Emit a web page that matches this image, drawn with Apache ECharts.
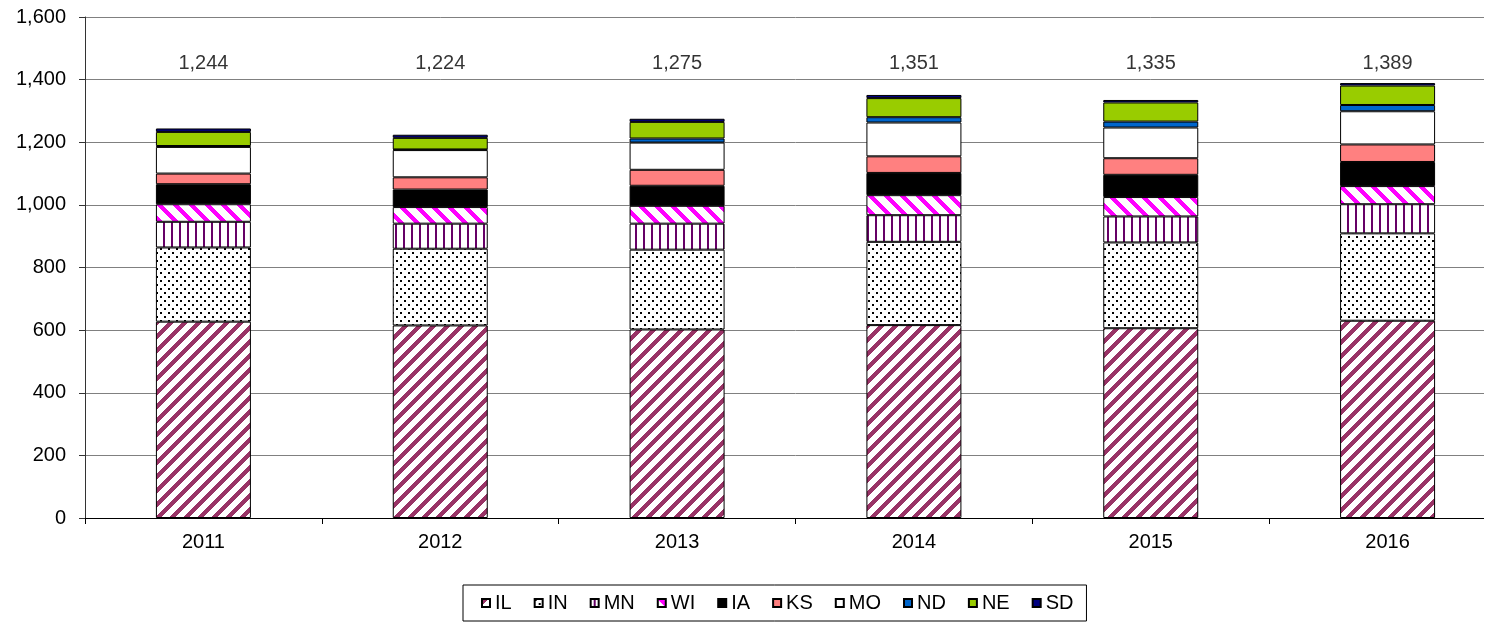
<!DOCTYPE html>
<html>
<head>
<meta charset="utf-8">
<script src="https://cdn.jsdelivr.net/npm/echarts@6/dist/echarts.min.js"></script>
<style>
html,body{margin:0;padding:0;background:#fff;overflow:hidden;}
#chart{width:1520px;height:627px;}
</style>
</head>
<body>
<div id="chart"></div>
<script>
// ---- data ----
const years = ['2011', '2012', '2013', '2014', '2015', '2016'];
const IL = [627, 615, 602, 616, 606, 630];
const IN = [237, 245, 255, 266, 274, 279];
const MN = [82, 80, 83, 85, 83, 93];
const WI = [56, 53, 57, 64, 62, 58];
const IA = [64, 56, 64, 71, 71, 77];
const KS = [34, 39, 51, 53, 53, 56];
const MO = [85, 87, 87, 108, 98, 106];
const ND = [3, 2, 13, 17, 19, 20];
const NE = [45, 37, 53, 61, 61, 62];
const SD = [11, 10, 10, 10, 8, 8];
const totals = [1244, 1224, 1275, 1351, 1335, 1389];
const yTicks = [0, 200, 400, 600, 800, 1000, 1200, 1400, 1600];

// ---- pattern helpers ----
function hexToRgb(h) {
  h = h.replace('#', '');
  return [parseInt(h.substr(0, 2), 16), parseInt(h.substr(2, 2), 16), parseInt(h.substr(4, 2), 16)];
}
function makeTile(w, h, color, test) {
  const c = document.createElement('canvas');
  c.width = w; c.height = h;
  const ctx = c.getContext('2d');
  const img = ctx.createImageData(w, h);
  const rgb = hexToRgb(color);
  for (let y = 0; y < h; y++) {
    for (let x = 0; x < w; x++) {
      const i = (y * w + x) * 4;
      const on = test(x, y);
      img.data[i] = on ? rgb[0] : 255;
      img.data[i + 1] = on ? rgb[1] : 255;
      img.data[i + 2] = on ? rgb[2] : 255;
      img.data[i + 3] = 255;
    }
  }
  ctx.putImageData(img, 0, 0);
  return { image: c, repeat: 'repeat' };
}
const patIL = makeTile(14, 14, '#993366', (x, y) => ((x + y) % 14) < 6);
const patIN = makeTile(8, 8, '#000000', (x, y) => (x < 2 && y < 2) || (x >= 4 && x < 6 && y >= 4 && y < 6));
const patMN = makeTile(8, 8, '#660066', (x, y) => x >= 3 && x < 5);
const patWI = makeTile(16, 16, '#FF00FF', (x, y) => (((x - y) % 16) + 16) % 16 < 6);

const FONT = 'Liberation Sans, Arial, sans-serif';
const stateNames = ['IL', 'IN', 'MN', 'WI', 'IA', 'KS', 'MO', 'ND', 'NE', 'SD'];
const stateData = [IL, IN, MN, WI, IA, KS, MO, ND, NE, SD];
const stateColors = [patIL, patIN, patMN, patWI, '#000000', '#FF8080', '#FFFFFF', '#0066CC', '#99CC00', '#000080'];

const series = stateNames.map((n, i) => ({
  name: n,
  type: 'bar',
  stack: 'total',
  barWidth: 95,
  data: stateData[i],
  itemStyle: { color: stateColors[i], borderColor: '#000', borderWidth: 1 },
  emphasis: { disabled: true },
  animation: false
}));

series.push({
  name: 'Total',
  type: 'scatter',
  symbolSize: 0,
  data: totals.map(() => 1450),
  label: {
    show: true,
    position: 'inside',
    formatter: p => totals[p.dataIndex].toLocaleString('en-US'),
    color: '#000',
    fontSize: 20,
    fontFamily: FONT
  },
  silent: true,
  animation: false,
  z: 10
});

const chart = echarts.init(document.getElementById('chart'), null, { renderer: 'canvas' });
chart.setOption({
  animation: false,
  backgroundColor: '#fff',
  grid: { left: 85, right: 14, top: 17, bottom: 109, containLabel: false },
  xAxis: {
    type: 'category',
    data: years,
    axisLine: { lineStyle: { color: '#000', width: 1 } },
    axisTick: { show: true, length: 6, lineStyle: { color: '#000' } },
    axisLabel: { color: '#000', fontSize: 20, fontFamily: FONT, margin: 14 }
  },
  yAxis: {
    type: 'value',
    min: yTicks[0],
    max: yTicks[yTicks.length - 1],
    interval: yTicks[1] - yTicks[0],
    axisLine: { show: true, lineStyle: { color: '#333', width: 1 } },
    axisTick: { show: true, length: 6, lineStyle: { color: '#333' } },
    axisLabel: {
      color: '#000', fontSize: 20, fontFamily: FONT, margin: 19,
      formatter: v => v.toLocaleString('en-US')
    },
    splitLine: { show: true, lineStyle: { color: '#808080', width: 1 } }
  },
  legend: {
    data: stateNames,
    left: 463,
    top: 585,
    orient: 'horizontal',
    itemWidth: 8,
    itemHeight: 8,
    itemGap: 22,
    borderColor: '#000',
    borderWidth: 1,
    padding: [8, 13, 8, 18],
    icon: 'rect',
    textStyle: { color: '#000', fontSize: 20, fontFamily: FONT },
    selectedMode: false
  },
  graphic: [{
    type: 'rect',
    left: 1484,
    top: 0,
    shape: { width: 40, height: 530 },
    style: { fill: '#fff' },
    z: 100,
    silent: true
  }],
  series: series
});
</script>
</body>
</html>
